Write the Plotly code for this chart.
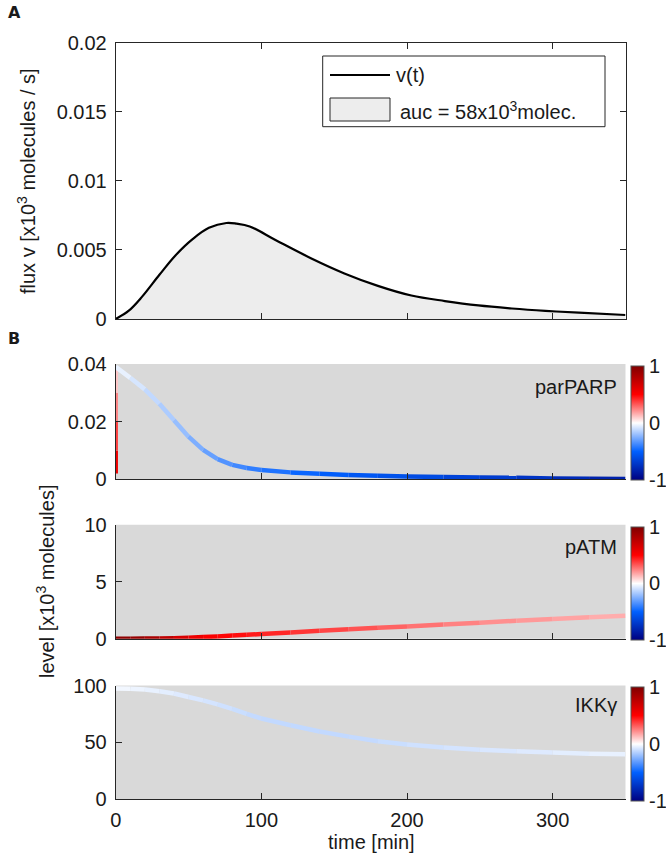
import plotly.graph_objects as go
from plotly.colors import sample_colorscale

# ---- data ----
# panel A: flux v(t)
t_flux = [0, 9, 18, 30, 41, 53, 64, 76, 83, 92, 110, 134, 157, 180, 203, 226, 249, 272, 295, 318, 350]
flux = [0, 0.0006, 0.0016, 0.0032, 0.0046, 0.0058, 0.0066, 0.00695, 0.0069, 0.0067, 0.0057, 0.0044,
        0.0033, 0.0024, 0.0017, 0.0013, 0.00098, 0.00076, 0.00059, 0.00046, 0.00029]
legend_names = ["v(t)", "auc = 58x10<sup>3</sup>molec."]

# panel B: levels + sensitivity colour (-1..1)
t_b = [0, 10, 20, 30, 40, 50, 60, 70, 80, 90, 100, 120, 140, 160, 180, 200, 225, 250, 275, 300, 325, 350]
parp = [0.039, 0.0352, 0.0312, 0.0262, 0.0205, 0.0148, 0.0102, 0.0070, 0.0050, 0.0039, 0.0032, 0.0024,
        0.0019, 0.0015, 0.0012, 0.0010, 0.0008, 0.0006, 0.0005, 0.0003, 0.0002, 0.0001]
parp_sens = [-0.03, -0.06, -0.1, -0.14, -0.18, -0.23, -0.28, -0.32, -0.36, -0.39, -0.42, -0.46, -0.5,
             -0.53, -0.56, -0.59, -0.63, -0.67, -0.71, -0.75, -0.8, -0.85]
# vertical jump of parPARP at t = 0
jump_level = [0.002, 0.01, 0.02, 0.03, 0.039]
jump_sens = [0.65, 0.45, 0.3, 0.18, 0.04]

patm = [0, 0.0, 0.01, 0.02, 0.05, 0.09, 0.14, 0.2, 0.27, 0.34, 0.41, 0.55, 0.69, 0.82, 0.95, 1.08,
        1.25, 1.41, 1.57, 1.73, 1.88, 2.02]
patm_sens = [0.95, 0.93, 0.88, 0.8, 0.7, 0.6, 0.53, 0.5, 0.48, 0.46, 0.44, 0.41, 0.38, 0.35, 0.32,
             0.29, 0.26, 0.23, 0.21, 0.19, 0.17, 0.15]

ikk = [97.5, 97.3, 96.5, 95, 93, 90, 87, 83.5, 79.5, 75, 71, 65, 59.5, 55, 51, 48, 45.5, 43.5, 42,
       41, 40, 39.5]
ikk_sens = [-0.02, -0.03, -0.04, -0.05, -0.06, -0.07, -0.08, -0.09, -0.1, -0.11, -0.12, -0.12, -0.12,
            -0.12, -0.11, -0.1, -0.09, -0.08, -0.07, -0.06, -0.05, -0.04]

names = ["parPARP", "pATM", "IKK\u03b3"]

CSCALE = [[0, "rgb(0,0,128)"], [0.25, "rgb(0,96,255)"], [0.5, "rgb(255,255,255)"],
          [0.75, "rgb(255,0,0)"], [1, "rgb(128,0,0)"]]

W, H = 666, 855
FONT = "Liberation Sans, Arial, sans-serif"
TXT = "#1a1a1a"
AX = "#262626"
FS = 20

def px(x):
    return x / W

def py(y):
    return 1 - y / H

fig = go.Figure()

# panel A
fig.add_trace(go.Scatter(x=t_flux + [350, 0], y=flux + [0, 0], fill="toself", fillcolor="#EDEDED",
                         mode="none", showlegend=False, hoverinfo="skip", xaxis="x", yaxis="y"))
fig.add_trace(go.Scatter(x=t_flux, y=flux, mode="lines", line=dict(color="black", width=2.2, shape="spline"),
                         showlegend=False, xaxis="x", yaxis="y"))


def colored_line(t, lev, sens, ax):
    for i in range(len(t) - 1):
        s = 0.5 * (sens[i] + sens[i + 1])
        c = sample_colorscale(CSCALE, [(s + 1) / 2])[0]
        fig.add_trace(go.Scatter(x=[t[i], t[i + 1]], y=[lev[i], lev[i + 1]], mode="lines",
                                 line=dict(color=c, width=4.5), showlegend=False, hoverinfo="skip",
                                 cliponaxis=False, xaxis="x" + ax, yaxis="y" + ax))


colored_line([0] * len(jump_level), jump_level, jump_sens, "2")
colored_line(t_b, parp, parp_sens, "2")
colored_line(t_b, patm, patm_sens, "3")
colored_line(t_b, ikk, ikk_sens, "4")

# colorbars (pixel positions: top, bottom)
cb_pos = [(366, 480), (526.7, 640), (686.7, 800.7)]
for ax, (top, bot) in zip(["2", "3", "4"], cb_pos):
    fig.add_trace(go.Scatter(x=[0], y=[0], mode="markers", showlegend=False, hoverinfo="skip",
                             marker=dict(size=1, opacity=0, color=[0], cmin=-1, cmax=1, colorscale=CSCALE,
                                         showscale=True,
                                         colorbar=dict(x=px(630.7), xanchor="left", xpad=0, ypad=0,
                                                       y=py(top), yanchor="top", len=bot - top, lenmode="pixels",
                                                       thickness=12.6, thicknessmode="pixels",
                                                       outlinewidth=1, outlinecolor="#555",
                                                       tickvals=[-1, 0, 1], ticktext=["-1", "0", "1"],
                                                       ticks="", tickfont=dict(size=FS, color=TXT, family=FONT))),
                             xaxis="x" + ax, yaxis="y" + ax))

xdom = [px(115.7), px(625.5)]
ydoms = {"": [py(319), py(42.7)], "2": [py(479.3), py(364)], "3": [py(638.7), py(524.7)],
         "4": [py(799), py(685.6)]}
yranges = {"": [0, 0.02], "2": [0, 0.04], "3": [0, 10], "4": [0, 100]}
ytv = {"": [0, 0.005, 0.01, 0.015, 0.02], "2": [0, 0.02, 0.04], "3": [0, 5, 10], "4": [0, 50, 100]}

layout = dict(width=W, height=H, margin=dict(l=0, r=0, t=0, b=0, autoexpand=False), paper_bgcolor="white",
              plot_bgcolor="white", font=dict(family=FONT, size=FS, color=TXT), showlegend=False)

for ax in ["", "2", "3", "4"]:
    boxed = ax == ""
    layout["xaxis" + ax] = dict(domain=xdom, range=[0, 350], anchor="y" + ax, tickvals=[0, 100, 200, 300],
                                showticklabels=(ax == "4"), ticks="inside", ticklen=6, tickcolor=AX,
                                showline=True, linecolor=AX, linewidth=1, mirror="ticks" if boxed else False,
                                showgrid=False, zeroline=False, tickfont=dict(size=FS),
                                ticklabelstandoff=3)
    layout["yaxis" + ax] = dict(domain=ydoms[ax], range=yranges[ax], anchor="x" + ax, tickvals=ytv[ax],
                                ticks="inside", ticklen=6, tickcolor=AX, showline=True, linecolor=AX,
                                linewidth=1, mirror="ticks" if boxed else False, showgrid=False,
                                zeroline=False, tickfont=dict(size=FS), ticklabelstandoff=4)

fig.update_layout(**layout)

# grey backgrounds of panel B
for ax in ["2", "3", "4"]:
    fig.add_shape(type="rect", xref="x" + ax + " domain", yref="y" + ax + " domain", x0=0, x1=1, y0=0, y1=1,
                  fillcolor="#D9D9D9", line_width=0, layer="below")

# legend box of panel A (drawn like the MATLAB legend)
fig.add_shape(type="rect", xref="paper", yref="paper", x0=px(322.7), x1=px(605), y0=py(126.7), y1=py(56),
              line=dict(color=AX, width=1), fillcolor="white")
fig.add_shape(type="line", xref="paper", yref="paper", x0=px(330), x1=px(390), y0=py(75), y1=py(75),
              line=dict(color="black", width=2))
fig.add_shape(type="rect", xref="paper", yref="paper", x0=px(330), x1=px(390), y0=py(121), y1=py(98),
              line=dict(color=AX, width=1), fillcolor="#EDEDED")

ann = [
    dict(text="<b>A</b>", x=px(6), y=py(12), xanchor="left", font=dict(size=16, family="DejaVu Sans")),
    dict(text="<b>B</b>", x=px(6), y=py(338), xanchor="left", font=dict(size=16, family="DejaVu Sans")),
    dict(text="flux v [x10<sup>3</sup> molecules / s]", x=px(26), y=py(181), textangle=-90),
    dict(text="level [x10<sup>3</sup> molecules]", x=px(45), y=py(582), textangle=-90),
    dict(text="time [min]", x=px(371), y=py(842)),
    dict(text=names[0], x=px(619), y=py(387), xanchor="right"),
    dict(text=names[1], x=px(619), y=py(547), xanchor="right"),
    dict(text=names[2], x=px(619), y=py(705), xanchor="right"),
    dict(text=legend_names[0], x=px(394), y=py(75), xanchor="left"),
    dict(text=legend_names[1], x=px(398), y=py(110), xanchor="left"),
]
for a in ann:
    a.setdefault("xanchor", "center")
    a.update(xref="paper", yref="paper", showarrow=False, yanchor="middle")
    fig.add_annotation(**a)

# the default 8 px body margin would push the figure off the window
fig.write_html("out.html", config={"displayModeBar": False},
               post_script="document.body.style.margin='0';")
